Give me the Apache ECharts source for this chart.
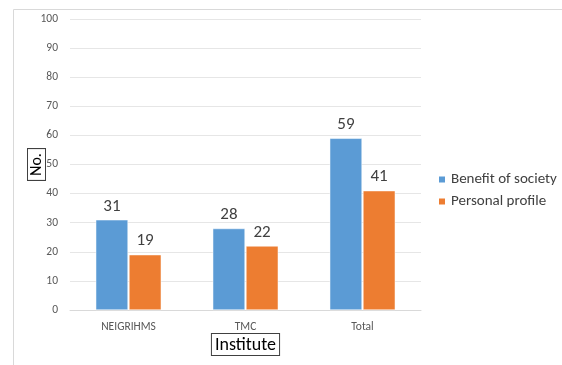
<!DOCTYPE html>
<html><head><meta charset="utf-8">
<script src="https://cdn.jsdelivr.net/npm/echarts@6/dist/echarts.min.js"></script>
<style>html,body{margin:0;padding:0;background:#fff}#c{width:562px;height:365px}</style>
</head><body><div id="c"></div>
<script>
const categories = ['NEIGRIHMS', 'TMC', 'Total'];
const benefitOfSociety = [31, 28, 59];
const personalProfile = [19, 22, 41];
const seriesNames = ['Benefit of society', 'Personal profile'];
const yTitle = 'No.';
const xTitle = 'Institute';

const chart = echarts.init(document.getElementById('c'));
const font = 'Calibri, Carlito, "Liberation Sans", "DejaVu Sans", sans-serif';
const labelStyle = {show: true, position: 'top', fontSize: 17, color: '#404040', fontFamily: font, distance: 5};
chart.setOption({
  animation: false,
  textStyle: {fontFamily: font},
  graphic: [
    {type: 'rect', shape: {x: 13.5, y: 9.5, width: 600, height: 400}, style: {fill: 'none', stroke: '#d9d9d9', lineWidth: 1}}
  ],
  legend: {
    orient: 'vertical', left: 432, top: 167, itemWidth: 8, itemHeight: 8, itemGap: 7,
    icon: 'rect',
    textStyle: {fontSize: 15, color: '#404040', fontFamily: font},
    data: seriesNames
  },
  grid: {left: 70, right: 141, top: 19, bottom: 55, containLabel: false, outerBoundsMode: 'none'},
  xAxis: {
    type: 'category', data: categories,
    name: xTitle, nameLocation: 'middle', nameGap: 24, nameMoveOverlap: false,
    nameTextStyle: {fontSize: 18, color: '#000', fontFamily: font, borderColor: '#404040', borderWidth: 1, padding: [2, 3, 1, 3], backgroundColor: '#fff'},
    axisLine: {show: true, lineStyle: {color: '#d9d9d9'}},
    axisTick: {show: false},
    axisLabel: {fontSize: 11.5, color: '#595959', margin: 11, fontFamily: font}
  },
  yAxis: {
    type: 'value', min: 0, max: 100, interval: 10,
    name: yTitle, nameLocation: 'middle', nameRotate: 90, nameGap: 25, nameMoveOverlap: false,
    nameTextStyle: {fontSize: 16, color: '#000', fontFamily: font, borderColor: '#404040', borderWidth: 1, padding: [1, 4, 0, 4], backgroundColor: '#fff'},
    axisLine: {show: false}, axisTick: {show: false},
    axisLabel: {fontSize: 11.5, color: '#595959', margin: 12, fontFamily: font},
    splitLine: {lineStyle: {color: '#e6e6e6'}}
  },
  series: [
    {name: seriesNames[0], type: 'bar', data: benefitOfSociety, barGap: '3%', barCategoryGap: '44%',
     itemStyle: {color: '#5b9bd5', borderColor: '#fff', borderWidth: 0.5}, label: labelStyle},
    {name: seriesNames[1], type: 'bar', data: personalProfile,
     itemStyle: {color: '#ed7d31', borderColor: '#fff', borderWidth: 0.5}, label: labelStyle}
  ]
});
</script></body></html>
